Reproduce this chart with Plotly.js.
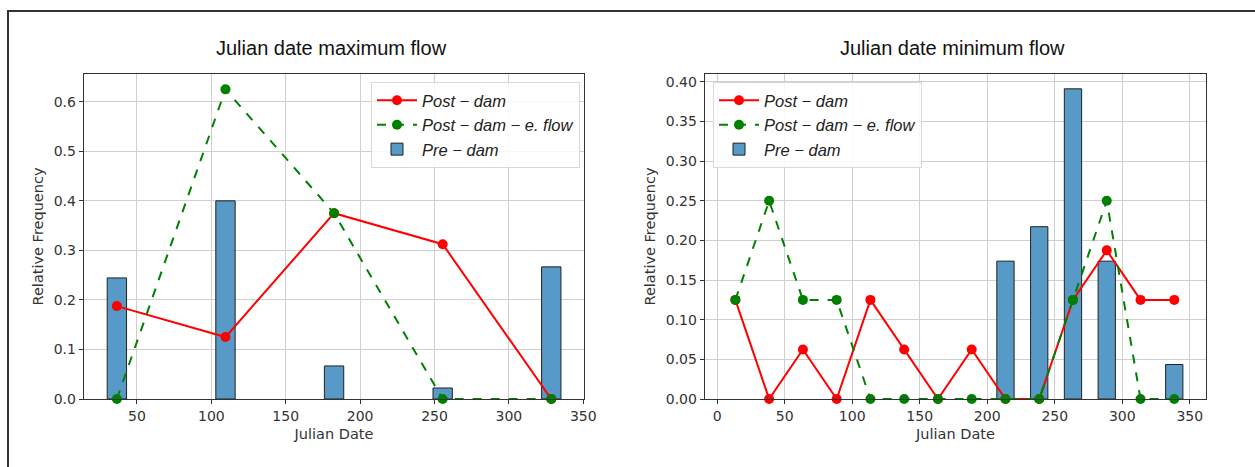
<!DOCTYPE html>
<html>
<head>
<meta charset="utf-8">
<script src="https://cdn.plot.ly/plotly-3.0.1.min.js"></script>
<style>
  html, body { margin: 0; padding: 0; background: #fff; }
  #wrap { position: relative; width: 1255px; height: 467px; }
  #chart { width: 1255px; height: 467px; }
  #frame { position: absolute; left: 7px; top: 10px; right: 0; bottom: 0;
           border-top: 2px solid #333; border-left: 2px solid #333; pointer-events: none; }
</style>
</head>
<body>
<div id="wrap">
  <div id="chart"></div>
  <div id="frame"></div>
</div>
<script>
// ---- Left panel: Julian date maximum flow ----
const maxX = [36.5, 109.5, 182.5, 255.5, 328.5];
const maxPreDam = [0.2444, 0.4, 0.0667, 0.0222, 0.2667];
const maxPostDam = [0.1875, 0.125, 0.375, 0.3125, 0.0];
const maxPostDamEflow = [0.0, 0.625, 0.375, 0.0, 0.0];

// ---- Right panel: Julian date minimum flow ----
const minX = [13.5, 38.5, 63.5, 88.5, 113.5, 138.5, 163.5, 188.5, 213.5, 238.5, 263.5, 288.5, 313.5, 338.5];
const minPreDam = [0, 0, 0, 0, 0, 0, 0, 0, 0.1739, 0.2174, 0.3913, 0.1739, 0, 0.0435];
const minPostDam = [0.125, 0, 0.0625, 0, 0.125, 0.0625, 0, 0.0625, 0, 0, 0.125, 0.1875, 0.125, 0.125];
const minPostDamEflow = [0.125, 0.25, 0.125, 0.125, 0, 0, 0, 0, 0, 0, 0.125, 0.25, 0, 0];

const titles = ["Julian date maximum flow", "Julian date minimum flow"];
const legendNames = ["Post \u2212 dam", "Post \u2212 dam \u2212 e. flow", "Pre \u2212 dam"];
const xTickVals = [[50, 100, 150, 200, 250, 300, 350], [0, 50, 100, 150, 200, 250, 300, 350]];
const yTickVals = [[0, 0.1, 0.2, 0.3, 0.4, 0.5, 0.6], [0, 0.05, 0.1, 0.15, 0.2, 0.25, 0.3, 0.35, 0.4]];

const barColor = '#5799c7';
const redC = '#ff0000';
const greenC = '#008000';

function panel(xs, pre, post, eflow, width, ax, leg) {
  const xa = ax === 1 ? 'x' : 'x2';
  const ya = ax === 1 ? 'y' : 'y2';
  const barX = [], barY = [];
  xs.forEach((v, i) => { if (pre[i] > 0) { barX.push(v); barY.push(pre[i]); } });
  return [
    { type: 'bar', x: barX, y: barY, width: width, xaxis: xa, yaxis: ya,
      marker: { color: barColor, line: { color: '#222', width: 1 } },
      name: legendNames[2], legend: leg, legendrank: 3, showlegend: true },
    { type: 'scatter', mode: 'lines+markers', x: xs, y: post, xaxis: xa, yaxis: ya,
      line: { color: redC, width: 2 }, marker: { color: redC, size: 10 },
      name: legendNames[0], legend: leg, legendrank: 1, cliponaxis: false },
    { type: 'scatter', mode: 'lines+markers', x: xs, y: eflow, xaxis: xa, yaxis: ya,
      line: { color: greenC, width: 2, dash: 'dash' }, marker: { color: greenC, size: 10 },
      name: legendNames[1], legend: leg, legendrank: 2, cliponaxis: false }
  ];
}

const data = [
  ...panel(maxX, maxPreDam, maxPostDam, maxPostDamEflow, 13, 1, 'legend'),
  ...panel(minX, minPreDam, minPostDam, minPostDamEflow, 12.8, 2, 'legend2')
];

const W = 1255, H = 467;
const tickFont = { family: 'DejaVu Sans, sans-serif', size: 14, color: '#333' };
const titleFont = { family: 'DejaVu Sans, sans-serif', size: 14.5, color: '#333' };

function xaxis(domain, range, ticks, anchor) {
  return {
    anchor: anchor, domain: domain, range: range, tickvals: ticks, ticks: 'outside', ticklen: 4,
    tickcolor: '#333', tickfont: tickFont, showline: true, linecolor: '#333', linewidth: 1.3,
    mirror: true, showgrid: true, gridcolor: '#cfcfcf', gridwidth: 1, zeroline: false,
    title: { text: 'Julian Date', font: titleFont, standoff: 5 }
  };
}
function yaxis(domain, range, ticks, fmt, anchor) {
  return {
    anchor: anchor, domain: domain, range: range, tickvals: ticks, tickformat: fmt, ticks: 'outside', ticklen: 4,
    tickcolor: '#333', tickfont: tickFont, showline: true, linecolor: '#333', linewidth: 1.3,
    mirror: true, showgrid: true, gridcolor: '#cfcfcf', gridwidth: 1, zeroline: false,
    title: { text: 'Relative Frequency', font: titleFont, standoff: 6 }
  };
}

const yDom = [1 - 399 / H, 1 - 74 / H];
const legendStyle = {
  bgcolor: 'rgba(255,255,255,0.85)', bordercolor: '#d8d8d8', borderwidth: 1,
  font: { family: 'Liberation Sans, Arial, sans-serif', size: 16.5, style: 'italic', color: '#222' },
  traceorder: 'normal', tracegroupgap: 0, itemwidth: 40
};

const layout = {
  width: W, height: H,
  margin: { l: 0, r: 0, t: 0, b: 0 },
  paper_bgcolor: '#fff', plot_bgcolor: '#fff',
  showlegend: true,
  xaxis: xaxis([84 / W, 584 / W], [14.4, 350.5], xTickVals[0], 'y'),
  yaxis: yaxis(yDom, [0, 0.656], yTickVals[0], '.1f', 'x'),
  xaxis2: xaxis([705 / W, 1206 / W], [-9, 362], xTickVals[1], 'y2'),
  yaxis2: yaxis(yDom, [0, 0.41], yTickVals[1], '.2f', 'x2'),
  legend: Object.assign({}, legendStyle, { x: 371 / W, y: 1 - 82 / H, xanchor: 'left', yanchor: 'top' }),
  legend2: Object.assign({}, legendStyle, { x: 713 / W, y: 1 - 82 / H, xanchor: 'left', yanchor: 'top' }),
  annotations: [
    { text: titles[0], x: 331 / W, y: 1 - 48 / H, xref: 'paper', yref: 'paper', showarrow: false,
      xanchor: 'center', yanchor: 'middle',
      font: { family: 'Liberation Sans, Arial, sans-serif', size: 20, color: '#111' } },
    { text: titles[1], x: 953 / W, y: 1 - 48 / H, xref: 'paper', yref: 'paper', showarrow: false,
      xanchor: 'center', yanchor: 'middle',
      font: { family: 'Liberation Sans, Arial, sans-serif', size: 20, color: '#111' } }
  ]
};

Plotly.newPlot('chart', data, layout, { staticPlot: true, displayModeBar: false });
</script>
</body>
</html>
